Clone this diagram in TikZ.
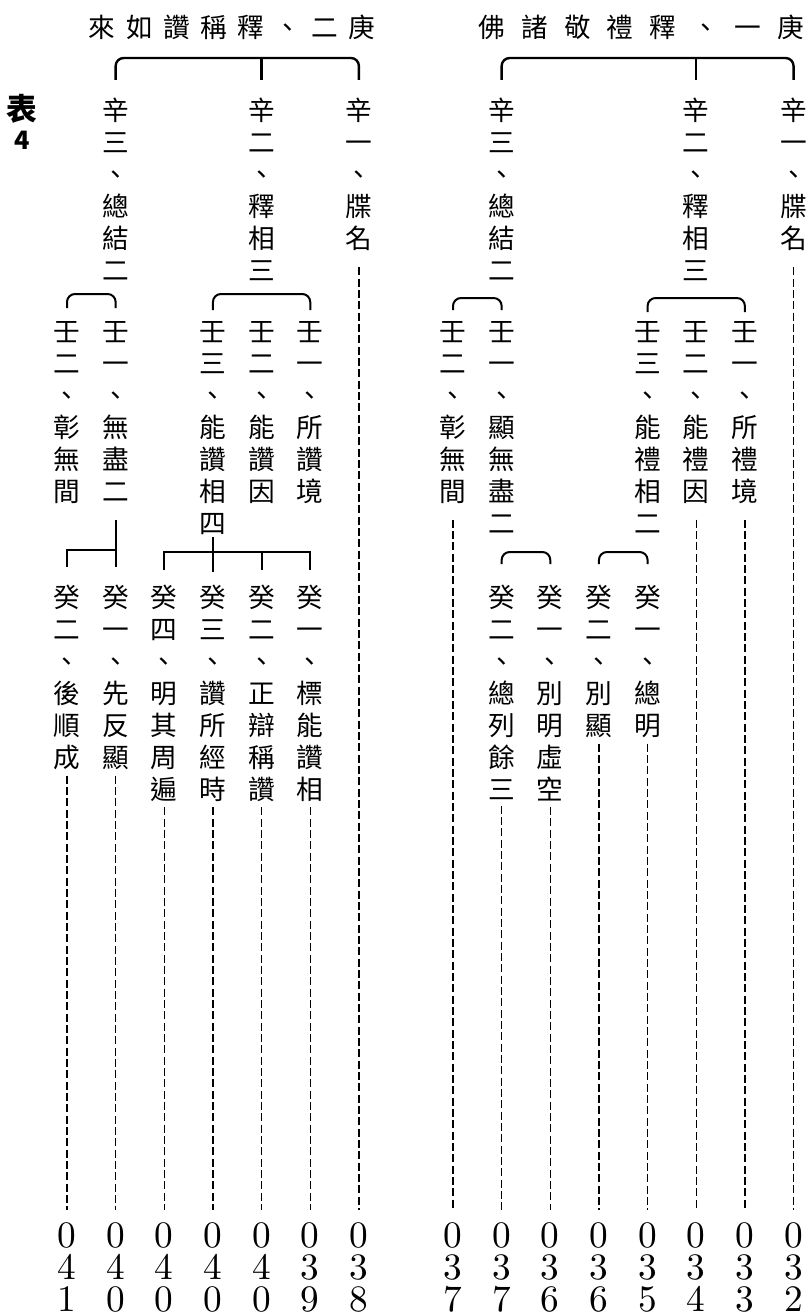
\documentclass[tikz,border=0pt]{standalone}
\usepackage{fontspec}
\newfontfamily\cjk{Noto Sans CJK TC}
\newfontfamily\numfont{lmroman10-regular.otf}
\usetikzlibrary{math}

\begin{document}
\begin{tikzpicture}[x=0.75pt, y=-0.75pt,
    vt/.style={font=\cjk\fontsize{20}{24}\selectfont, align=center, inner sep=0pt, anchor=north},
    ttl/.style={font=\cjk\fontsize{20}{24}\selectfont, inner sep=0pt},
    num/.style={font=\numfont\fontsize{28}{24}\selectfont, align=center, inner sep=0pt, anchor=north},
    brk/.style={line width=1.5pt, rounded corners=6pt},
    sq/.style={line width=1.5pt},
    dl/.style={line width=0.9pt, dash pattern=on 6pt off 2.5pt}]
      \tikzmath{\colL = 67; \colR = 453; \dx = 48.65; \rowA = 98; \rowB = 321; \rowC = 585; \rowN = 1222;}
      \path[fill=white, use as bounding box] (0,0) rectangle (811,1316);
      \node[font=\cjk\bfseries\fontsize{23}{22}\selectfont, align=center, inner sep=0pt] (tab) at (22,122) {表\\{\fontsize{19}{22}\selectfont 4}};
      % 庚二
      \node[ttl] (geng2) at (232,27) {來\hspace{7.8pt}如\hspace{7.8pt}讚\hspace{7.8pt}稱\hspace{7.8pt}釋\hspace{7.8pt}、\hspace{7.8pt}二\hspace{7.8pt}庚};
      \node[vt] (g2x3) at ({\colL+\dx},\rowA) {辛\\三\\、\\總\\結\\二};
      \node[vt] (g2x2) at ({\colL+4*\dx},\rowA) {辛\\二\\、\\釋\\相\\三};
      \node[vt] (g2x1) at ({\colL+6*\dx},\rowA) {辛\\一\\、\\牒\\名};
      \node[vt] (g2x3r2) at (\colL,\rowB) {壬\\二\\、\\彰\\無\\間};
      \node[vt] (g2x3r1) at ({\colL+\dx},\rowB) {壬\\一\\、\\無\\盡\\二};
      \node[vt] (g2x2r3) at ({\colL+3*\dx},\rowB) {壬\\三\\、\\能\\讚\\相\\四};
      \node[vt] (g2x2r2) at ({\colL+4*\dx},\rowB) {壬\\二\\、\\能\\讚\\因};
      \node[vt] (g2x2r1) at ({\colL+5*\dx},\rowB) {壬\\一\\、\\所\\讚\\境};
      \node[vt] (g2x3r1k2) at (\colL,\rowC) {癸\\二\\、\\後\\順\\成};
      \node[vt] (g2x3r1k1) at ({\colL+\dx},\rowC) {癸\\一\\、\\先\\反\\顯};
      \node[vt] (g2x2r3k4) at ({\colL+2*\dx},\rowC) {癸\\四\\、\\明\\其\\周\\遍};
      \node[vt] (g2x2r3k3) at ({\colL+3*\dx},\rowC) {癸\\三\\、\\讚\\所\\經\\時};
      \node[vt] (g2x2r3k2) at ({\colL+4*\dx},\rowC) {癸\\二\\、\\正\\辯\\稱\\讚};
      \node[vt] (g2x2r3k1) at ({\colL+5*\dx},\rowC) {癸\\一\\、\\標\\能\\讚\\相};
      \node[num] (nL1) at (g2x3r1k2 |- 0,\rowN) {0\\4\\1};
      \node[num] (nL2) at (g2x3r1k1 |- 0,\rowN) {0\\4\\0};
      \node[num] (nL3) at (g2x2r3k4 |- 0,\rowN) {0\\4\\0};
      \node[num] (nL4) at (g2x2r3k3 |- 0,\rowN) {0\\4\\0};
      \node[num] (nL5) at (g2x2r3k2 |- 0,\rowN) {0\\4\\0};
      \node[num] (nL6) at (g2x2r3k1 |- 0,\rowN) {0\\3\\9};
      \node[num] (nL7) at (g2x1 |- 0,\rowN) {0\\3\\8};
      \draw[brk, line width=1.8pt] (g2x3 |- 0,80) |- (g2x1 |- 0,58) -- (g2x1 |- 0,80);
      \draw[sq, line width=1.8pt] (g2x2 |- 0,58) -- (g2x2 |- 0,80);
      \draw[brk] (g2x3r2 |- 0,308) |- (g2x3r1 |- 0,294) -- (g2x3r1 |- 0,308);
      \draw[brk] (g2x2r3 |- 0,310) |- (g2x2r1 |- 0,294) -- (g2x2r1 |- 0,310);
      \draw[sq] (g2x3r1 |- 0,520) -- (g2x3r1 |- 0,567);
      \draw[sq] (g2x3r1k2 |- 0,567) |- (g2x3r1 |- 0,550);
      \draw[sq] (g2x2r3 |- 0,537) -- (g2x2r3 |- 0,572);
      \draw[sq] (g2x2r3k4 |- 0,570) |- (g2x2r3k1 |- 0,552) -- (g2x2r3k1 |- 0,570);
      \draw[sq] (g2x2r3k2 |- 0,552) -- (g2x2r3k2 |- 0,570);
      \draw[dl] ([yshift=-12pt]g2x1.south) -- ([yshift=9pt]nL7.north);
      \draw[dl] ([yshift=-4pt]g2x2r3k1.south) -- ([yshift=9pt]nL6.north);
      \draw[dl] ([yshift=-4pt]g2x2r3k2.south) -- ([yshift=9pt]nL5.north);
      \draw[dl] ([yshift=-4pt]g2x2r3k3.south) -- ([yshift=9pt]nL4.north);
      \draw[dl] ([yshift=-4pt]g2x2r3k4.south) -- ([yshift=9pt]nL3.north);
      \draw[dl] ([yshift=-4pt]g2x3r1k1.south) -- ([yshift=9pt]nL2.north);
      \draw[dl] ([yshift=-4pt]g2x3r1k2.south) -- ([yshift=9pt]nL1.north);
      % 庚一
      \node[ttl] (geng1) at (641.5,27) {佛\hspace{12pt}諸\hspace{12pt}敬\hspace{12pt}禮\hspace{12pt}釋\hspace{12pt}、\hspace{12pt}一\hspace{12pt}庚};
      \node[vt] (g1x3) at ({\colR+\dx},\rowA) {辛\\三\\、\\總\\結\\二};
      \node[vt] (g1x2) at ({\colR+5*\dx},\rowA) {辛\\二\\、\\釋\\相\\三};
      \node[vt] (g1x1) at ({\colR+7*\dx},\rowA) {辛\\一\\、\\牒\\名};
      \node[vt] (g1x3r2) at (\colR,\rowB) {壬\\二\\、\\彰\\無\\間};
      \node[vt] (g1x3r1) at ({\colR+\dx},\rowB) {壬\\一\\、\\顯\\無\\盡\\二};
      \node[vt] (g1x2r3) at ({\colR+4*\dx},\rowB) {壬\\三\\、\\能\\禮\\相\\二};
      \node[vt] (g1x2r2) at ({\colR+5*\dx},\rowB) {壬\\二\\、\\能\\禮\\因};
      \node[vt] (g1x2r1) at ({\colR+6*\dx},\rowB) {壬\\一\\、\\所\\禮\\境};
      \node[vt] (g1x3r1k2) at ({\colR+\dx},\rowC) {癸\\二\\、\\總\\列\\餘\\三};
      \node[vt] (g1x3r1k1) at ({\colR+2*\dx},\rowC) {癸\\一\\、\\別\\明\\虛\\空};
      \node[vt] (g1x2r3k2) at ({\colR+3*\dx},\rowC) {癸\\二\\、\\別\\顯};
      \node[vt] (g1x2r3k1) at ({\colR+4*\dx},\rowC) {癸\\一\\、\\總\\明};
      \node[num] (nR1) at (g1x3r2 |- 0,\rowN) {0\\3\\7};
      \node[num] (nR2) at (g1x3r1k2 |- 0,\rowN) {0\\3\\7};
      \node[num] (nR3) at (g1x3r1k1 |- 0,\rowN) {0\\3\\6};
      \node[num] (nR4) at (g1x2r3k2 |- 0,\rowN) {0\\3\\6};
      \node[num] (nR5) at (g1x2r3k1 |- 0,\rowN) {0\\3\\5};
      \node[num] (nR6) at (g1x2r2 |- 0,\rowN) {0\\3\\4};
      \node[num] (nR7) at (g1x2r1 |- 0,\rowN) {0\\3\\3};
      \node[num] (nR8) at (g1x1 |- 0,\rowN) {0\\3\\2};
      \draw[brk, line width=1.8pt] (g1x3 |- 0,80) |- (g1x1 |- 0,58) -- (g1x1 |- 0,80);
      \draw[sq, line width=1.8pt] (g1x2 |- 0,58) -- (g1x2 |- 0,80);
      \draw[brk] (g1x3r2 |- 0,310) |- (g1x3r1 |- 0,298) -- (g1x3r1 |- 0,310);
      \draw[brk] (g1x2r3 |- 0,312) |- (g1x2r1 |- 0,298) -- (g1x2r1 |- 0,312);
      \draw[brk] (g1x3r1k2 |- 0,564) |- (g1x3r1k1 |- 0,552) -- (g1x3r1k1 |- 0,564);
      \draw[brk] (g1x2r3k2 |- 0,564) |- (g1x2r3k1 |- 0,552) -- (g1x2r3k1 |- 0,564);
      \draw[dl] ([yshift=-12pt]g1x1.south) -- ([yshift=9pt]nR8.north);
      \draw[dl] ([yshift=-12pt]g1x2r1.south) -- ([yshift=9pt]nR7.north);
      \draw[dl] ([yshift=-12pt]g1x2r2.south) -- ([yshift=9pt]nR6.north);
      \draw[dl] ([yshift=-4pt]g1x2r3k1.south) -- ([yshift=9pt]nR5.north);
      \draw[dl] ([yshift=-4pt]g1x2r3k2.south) -- ([yshift=9pt]nR4.north);
      \draw[dl] ([yshift=-4pt]g1x3r1k1.south) -- ([yshift=9pt]nR3.north);
      \draw[dl] ([yshift=-4pt]g1x3r1k2.south) -- ([yshift=9pt]nR2.north);
      \draw[dl] ([yshift=-12pt]g1x3r2.south) -- ([yshift=9pt]nR1.north);
    \end{tikzpicture}
\end{document}
